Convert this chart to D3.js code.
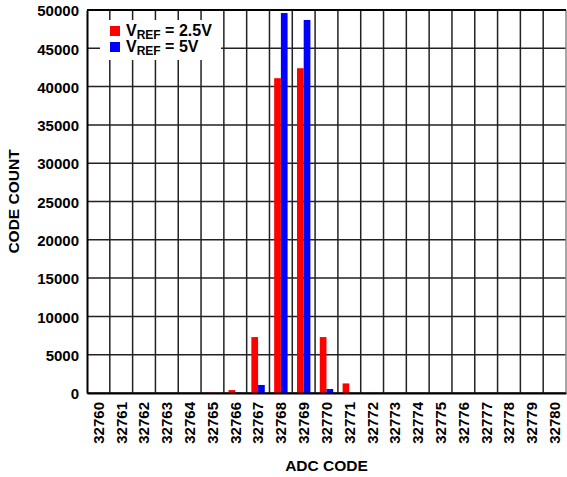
<!DOCTYPE html>
<html lang="en">
    <head>
        <meta charset="utf-8">
        <title>ADC code histogram</title>
        <script type="text/javascript" src="https://d3js.org/d3.v7.min.js"></script>
        <style type="text/css">
            body { margin: 0; background: #fff; }
            text { font-family: "Liberation Sans", Arial, sans-serif; font-weight: bold; fill: #000; }
        </style>
    </head>
    <body>
        <script type="text/javascript">
            //Width and height
            var w = 567;
            var h = 477;

            //Data
            var codes = ["32760", "32761", "32762", "32763", "32764", "32765", "32766", "32767", "32768", "32769", "32770",
                         "32771", "32772", "32773", "32774", "32775", "32776", "32777", "32778", "32779", "32780"];
            var vref25 = [0, 0, 0, 0, 0, 60, 380, 7300, 41100, 42400, 7300, 1250, 30, 0, 0, 0, 0, 0, 0, 0, 0];
            var vref5  = [0, 0, 0, 0, 0, 0, 40, 1050, 49600, 48700, 520, 0, 0, 0, 0, 0, 0, 0, 0, 0, 0];
            var yTicks = [0, 5000, 10000, 15000, 20000, 25000, 30000, 35000, 40000, 45000, 50000];
            var seriesNames = ["2.5V", "5V"];
            var seriesColors = ["#ff0000", "#0000ff"];

            // plot edges (note: "top" is taken by window.top)
            var pLeft = 87, pTop = 10, pRight = 566, pBottom = 393;

            var x = d3.scaleBand().domain(codes).range([pLeft, pRight]);
            var x1 = d3.scaleBand().domain([0, 1]).range([0, x.bandwidth()]).paddingOuter(0.7);
            var y = d3.scaleLinear().domain([0, 50000]).range([pBottom, pTop]);

            //Create SVG element
            var svg = d3.select("body")
                        .append("svg")
                        .attr("width", w)
                        .attr("height", h);

            //horizontal grid
            svg.selectAll("line.hgrid")
               .data(yTicks)
               .enter()
               .append("line")
               .attr("x1", pLeft)
               .attr("x2", pRight)
               .attr("y1", function(d) { return y(d); })
               .attr("y2", function(d) { return y(d); })
               .attr("stroke", "#222")
               .attr("stroke-width", 1.5);

            //vertical grid, between bands
            svg.selectAll("line.vgrid")
               .data(codes.slice(1))
               .enter()
               .append("line")
               .attr("x1", function(d) { return x(d); })
               .attr("x2", function(d) { return x(d); })
               .attr("y1", pTop)
               .attr("y2", pBottom)
               .attr("stroke", "#222")
               .attr("stroke-width", 1.5);

            svg.append("line")
               .attr("x1", pRight).attr("x2", pRight)
               .attr("y1", pTop).attr("y2", pBottom)
               .attr("stroke", "#888").attr("stroke-width", 1.5);

            //bars
            var rows = codes.map(function(c, i) { return [c, vref25[i], vref5[i]]; });
            [1, 2].forEach(function(k) {
                svg.selectAll("rect.s" + k)
                   .data(rows)
                   .enter()
                   .append("rect")
                   .attr("x", function(d) { return x(d[0]) + x1(k - 1); })
                   .attr("y", function(d) { return y(d[k]); })
                   .attr("width", x1.bandwidth())
                   .attr("height", function(d) { return pBottom - y(d[k]); })
                   .attr("fill", seriesColors[k - 1]);
            });

            //frame
            svg.append("line")
               .attr("x1", pLeft).attr("x2", pRight).attr("y1", pTop).attr("y2", pTop)
               .attr("stroke", "#000").attr("stroke-width", 2);

            var yAxis = d3.axisLeft(y).tickValues(yTicks).tickSize(0).tickPadding(8).tickFormat(d3.format("d"));
            var gy = svg.append("g").attr("transform", "translate(" + pLeft + ",0)").call(yAxis);
            gy.select(".domain").attr("stroke", "#000").attr("stroke-width", 2);
            gy.selectAll("text").style("font-size", "15px").attr("fill", "#000").attr("dy", "0.38em");

            var xAxis = d3.axisBottom(x).tickSize(0);
            var gx = svg.append("g").attr("transform", "translate(0," + pBottom + ")").call(xAxis);
            gx.select(".domain").attr("stroke", "#000").attr("stroke-width", 2);
            gx.selectAll("text")
              .style("font-size", "15px")
              .attr("fill", "#000")
              .attr("text-anchor", "end")
              .attr("transform", "rotate(-90)")
              .attr("x", -9)
              .attr("y", 0)
              .attr("dy", "0.36em");

            //axis titles
            svg.append("text")
               .text("ADC CODE")
               .attr("x", (pLeft + pRight) / 2)
               .attr("y", 471)
               .attr("text-anchor", "middle")
               .style("font-size", "15.5px");

            svg.append("text")
               .text("CODE COUNT")
               .attr("transform", "translate(19," + (pTop + pBottom) / 2 + ") rotate(-90)")
               .attr("text-anchor", "middle")
               .style("font-size", "15.5px");

            //legend
            svg.append("rect")
               .attr("x", 100).attr("y", 20).attr("width", 121).attr("height", 40)
               .attr("fill", "#fff");

            seriesNames.forEach(function(name, i) {
                svg.append("rect")
                   .attr("x", 110).attr("y", 26 + i * 16).attr("width", 10).attr("height", 10)
                   .attr("fill", seriesColors[i]);
                var t = svg.append("text")
                   .attr("x", 126).attr("y", 35.5 + i * 16)
                   .style("font-size", "16px");
                t.append("tspan").text("V");
                t.append("tspan").text("REF").attr("dy", 3.5).style("font-size", "12px");
                t.append("tspan").text(" = " + name).attr("dy", -3.5);
            });
        </script>
    </body>
</html>
